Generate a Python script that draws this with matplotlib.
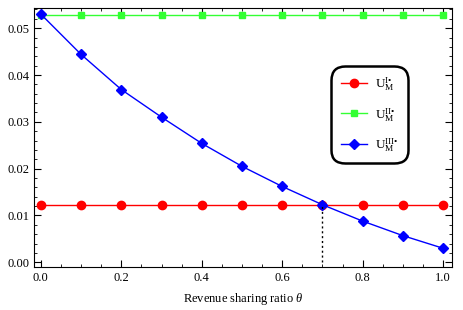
import matplotlib.pyplot as plt
import numpy as np
from matplotlib.ticker import MultipleLocator

plt.rcParams['font.family'] = ['Liberation Serif', 'DejaVu Serif']
plt.rcParams['mathtext.fontset'] = 'custom'
plt.rcParams['mathtext.rm'] = 'Liberation Serif'
plt.rcParams['mathtext.it'] = 'Liberation Serif:italic'

# revenue sharing ratio
theta = [0.0, 0.1, 0.2, 0.3, 0.4, 0.5, 0.6, 0.7, 0.8, 0.9, 1.0]
# profits
u_one = [0.01233] * 11
u_two = [0.0529] * 11
u_three = [0.0530, 0.0444, 0.0369, 0.0310, 0.0254, 0.0205, 0.0162, 0.0123, 0.0088, 0.0057, 0.0030]
theta_cross = 0.7
u_cross = 0.01233

fig = plt.figure(figsize=(4.64, 3.10), dpi=100)
ax = fig.add_axes([0.0733, 0.1387, 0.9007, 0.8353])

ax.plot(theta, u_one, color='red', lw=1, marker='o', ms=6, label=r'$\mathrm{U}_{\mathrm{M}}^{\mathrm{I•}}$')
ax.plot(theta, u_two, color='#33ff33', lw=1, marker='s', ms=5, label=r'$\mathrm{U}_{\mathrm{M}}^{\mathrm{II•}}$')
ax.plot(theta, u_three, color='blue', lw=1, marker='D', ms=5, label=r'$\mathrm{U}_{\mathrm{M}}^{\mathrm{III•}}$')
ax.plot([theta_cross, theta_cross], [0, u_cross], color='black', lw=1, ls=(0, (1.5, 2)))

ax.set_xlim(-0.017, 1.022)
ax.set_ylim(-0.001, 0.0543)
ax.xaxis.set_major_locator(MultipleLocator(0.2))
ax.xaxis.set_minor_locator(MultipleLocator(0.05))
ax.yaxis.set_major_locator(MultipleLocator(0.01))
ax.yaxis.set_minor_locator(MultipleLocator(0.002))
ax.xaxis.set_major_formatter(plt.FormatStrFormatter('%.1f'))
ax.yaxis.set_major_formatter(plt.FormatStrFormatter('%.2f'))
ax.tick_params(which='both', direction='in', top=True, right=True, labelsize=9)
ax.tick_params(which='major', length=5)
ax.tick_params(which='minor', length=2.5)
ax.set_xlabel(r'Revenue sharing ratio $\it{\theta}$', fontsize=9, labelpad=5)

leg = ax.legend(loc='upper left', bbox_to_anchor=(0.696, 0.80), fontsize=9.5,
                fancybox=True, framealpha=1, edgecolor='black', handlelength=2.0,
                handletextpad=0.6, labelspacing=0.95, borderpad=0.7)
leg.get_frame().set_linewidth(1.8)
leg.get_frame().set_boxstyle('round,pad=0,rounding_size=1.0')

plt.savefig('out.png', dpi=100)
